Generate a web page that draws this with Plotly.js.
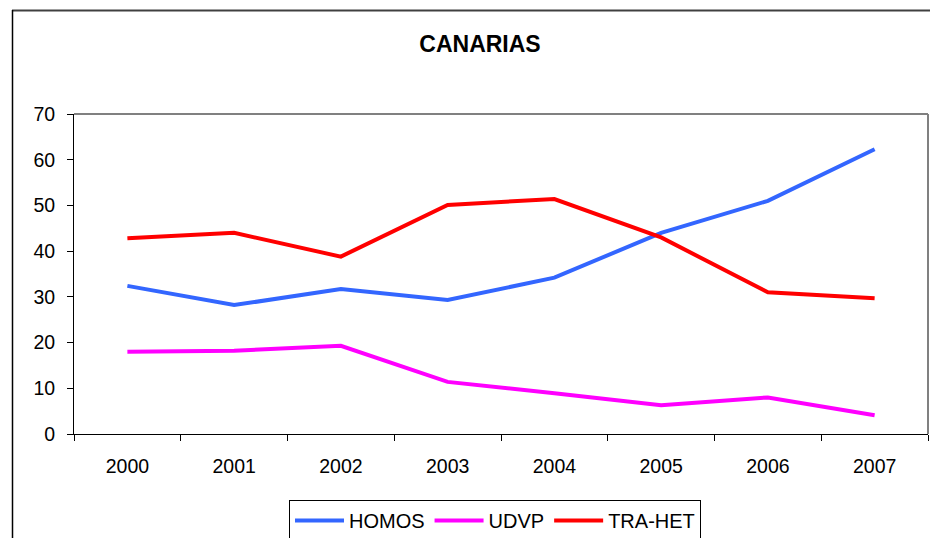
<!DOCTYPE html>
<html>
<head>
<meta charset="utf-8">
<script src="https://cdn.plot.ly/plotly-3.0.1.min.js"></script>
<style>html,body{margin:0;padding:0;background:#fff;}#chart{width:930px;height:538px;}</style>
</head>
<body>
<div id="chart"></div>
<script>
const years = ["2000","2001","2002","2003","2004","2005","2006","2007"];
const homos = [32.4, 28.2, 31.7, 29.3, 34.2, 44.0, 51.0, 62.3];
const udvp = [18.0, 18.2, 19.3, 11.4, 8.9, 6.3, 8.0, 4.1];
const traHet = [42.8, 44.0, 38.8, 50.1, 51.4, 43.0, 31.0, 29.7];
const seriesNames = ["HOMOS", "UDVP", "TRA-HET"];
const chartTitle = "CANARIAS";

const FONT = "Liberation Sans, Arial, sans-serif";
const mk = (y, name, color) => ({
  x: years, y: y, name: name, type: "scatter", mode: "lines",
  line: {color: color, width: 4}, hoverinfo: "x+y+name"
});
const data = [
  mk(homos, seriesNames[0], "#3366FF"),
  mk(udvp, seriesNames[1], "#FF00FF"),
  mk(traHet, seriesNames[2], "#FF0000")
];
const layout = {
  width: 930, height: 538,
  margin: {l: 74, r: 2, t: 114, b: 104, pad: 0},
  paper_bgcolor: "#fff", plot_bgcolor: "#fff",
  font: {family: FONT, color: "#000", size: 19.5},
  title: {text: "<b>" + chartTitle + "</b>", font: {family: FONT, size: 23, color: "#000"},
          x: 480/930, xanchor: "center", y: 1 - 44/538, yanchor: "middle", xref: "container", yref: "container"},
  xaxis: {type: "category", range: [-0.5, 7.5], tickson: "boundaries", ticks: "outside", ticklen: 6,
          tickcolor: "#000", showline: true, linecolor: "#000", linewidth: 1, showgrid: false, zeroline: false,
          tickfont: {size: 19.5}, ticklabelstandoff: 15, fixedrange: true, automargin: false},
  yaxis: {range: [0, 70], dtick: 10, ticks: "outside", ticklen: 6, tickcolor: "#000", showline: true,
          linecolor: "#000", linewidth: 1, showgrid: false, zeroline: false, tickfont: {size: 19.5},
          ticklabelstandoff: 8, fixedrange: true, automargin: false},
  showlegend: true,
  legend: {orientation: "h", xref: "container", yref: "container", x: 289/930, xanchor: "left",
           y: 1 - 500/538, yanchor: "top",
           bordercolor: "#000", borderwidth: 1, bgcolor: "#fff", font: {size: 20, family: FONT},
           itemwidth: 49, traceorder: "normal"},
  shapes: [
    {type: "line", xref: "paper", yref: "paper", x0: 0, x1: 1, y0: 1, y1: 1, line: {color: "#808080", width: 2}},
    {type: "line", xref: "paper", yref: "paper", x0: 1, x1: 1, y0: 0, y1: 1, line: {color: "#808080", width: 2}},
    {type: "line", xref: "paper", yref: "paper", x0: (12-74)/854, x1: (1000-74)/854, y0: (434-10.5)/320, y1: (434-10.5)/320, line: {color: "#404040", width: 2}},
    {type: "line", xref: "paper", yref: "paper", x0: (12.5-74)/854, x1: (12.5-74)/854, y0: (434-10)/320, y1: (434-600)/320, line: {color: "#000", width: 1.5}}
  ]
};
Plotly.newPlot("chart", data, layout, {displayModeBar: false, staticPlot: true});
</script>
</body>
</html>
